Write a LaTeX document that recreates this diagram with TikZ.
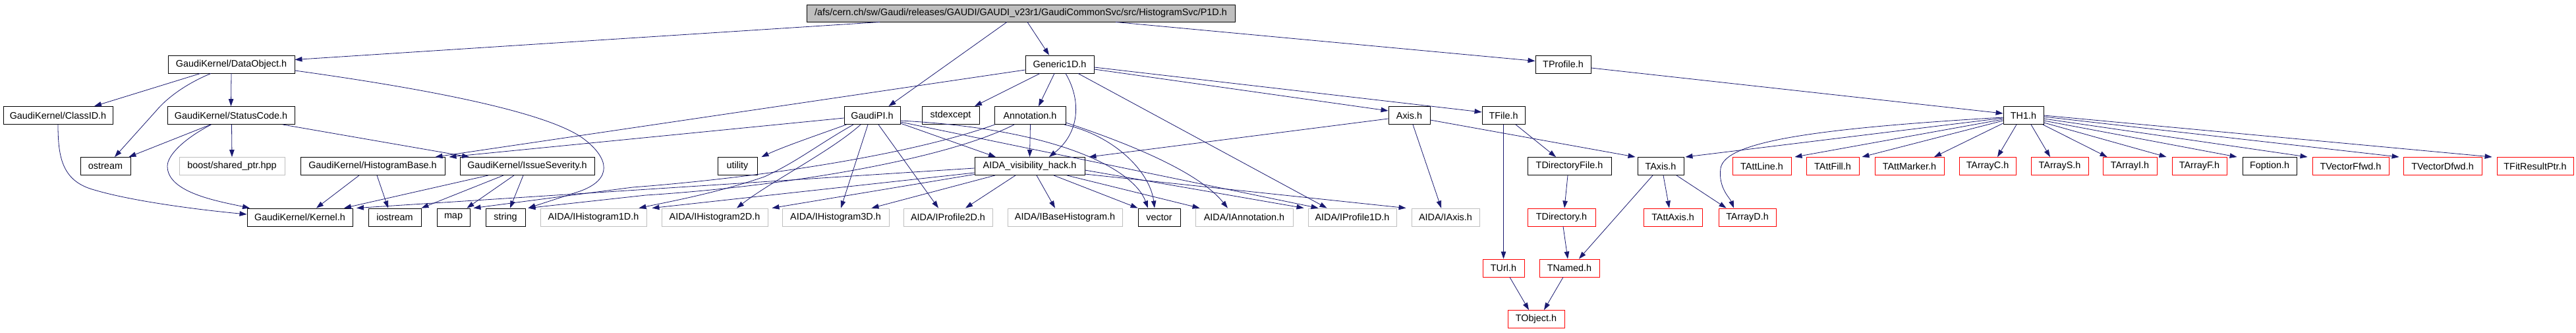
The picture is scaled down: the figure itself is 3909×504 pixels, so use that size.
\documentclass[tikz,border=0pt]{standalone}
\usepackage{fontspec}
\setmainfont{Liberation Sans}
\usetikzlibrary{arrows.meta}
\definecolor{edgec}{RGB}{25,25,112}
\definecolor{boxgray}{RGB}{191,191,191}
\newcommand{\fsz}{\fontsize{14.4pt}{17pt}\selectfont}
\tikzset{
  nb/.style={draw=black, line width=0.9pt, minimum height=27pt, inner sep=0pt, font=\fsz, fill=white},
  gb/.style={nb, draw=boxgray},
  rb/.style={nb, draw=red},
  dep/.style={draw=edgec, line width=0.8pt, -{Triangle[length=11pt,width=7.5pt]}},
}
\begin{document}
\begin{tikzpicture}[x=1pt,y=-1pt]
\useasboundingbox (0,0) rectangle (3909,504);
% row 0
\node[nb, fill=boxgray, minimum width=650pt, minimum height=26pt] (root) at (1549,20) {/afs/cern.ch/sw/Gaudi/releases/GAUDI/GAUDI\_v23r1/GaudiCommonSvc/src/HistogramSvc/P1D.h};
% row 1
\node[nb, minimum width=192pt] (dobj) at (351,97.5) {GaudiKernel/DataObject.h};
\node[nb, minimum width=104pt] (gen) at (1608,97.5) {Generic1D.h};
\node[nb, minimum width=84pt] (tprof) at (2372,97.5) {TProfile.h};
% row 2
\node[nb, minimum width=166pt] (classid) at (88,175) {GaudiKernel/ClassID.h};
\node[nb, minimum width=193pt] (status) at (350.5,175) {GaudiKernel/StatusCode.h};
\node[nb, minimum width=85pt] (gaudipi) at (1323.5,175) {GaudiPI.h};
\node[nb, minimum width=87pt] (stdexc) at (1442.5,175) {stdexcept};
\node[nb, minimum width=108pt] (annot) at (1563,175) {Annotation.h};
\node[nb, minimum width=63pt] (axis) at (2138.5,175) {Axis.h};
\node[nb, minimum width=65pt] (tfile) at (2281.5,175) {TFile.h};
\node[nb, minimum width=61pt] (th1) at (3070.5,175) {TH1.h};
% row 3
\node[nb, minimum width=76pt] (ostream) at (160,252) {ostream};
\node[gb, minimum width=160pt] (boost) at (352,252) {boost/shared\_ptr.hpp};
\node[nb, minimum width=219pt] (hbase) at (565.5,252) {GaudiKernel/HistogramBase.h};
\node[nb, minimum width=204pt] (issue) at (800,252) {GaudiKernel/IssueSeverity.h};
\node[nb, minimum width=60pt] (utility) at (1119,252) {utility};
\node[nb, minimum width=167pt] (aida) at (1562.5,252) {AIDA\_visibility\_hack.h};
\node[nb, minimum width=127pt] (tdirf) at (2381.5,252) {TDirectoryFile.h};
\node[nb, minimum width=70pt] (taxis) at (2520,252) {TAxis.h};
\node[rb, minimum width=89pt] (tattline) at (2673.5,252) {TAttLine.h};
\node[rb, minimum width=80pt] (tattfill) at (2781,252) {TAttFill.h};
\node[rb, minimum width=105pt] (tattmark) at (2897.5,252) {TAttMarker.h};
\node[rb, minimum width=86pt] (tarrc) at (3016,252) {TArrayC.h};
\node[rb, minimum width=87pt] (tarrs) at (3125.5,252) {TArrayS.h};
\node[rb, minimum width=82pt] (tarri) at (3232,252) {TArrayI.h};
\node[rb, minimum width=83pt] (tarrf) at (3337.5,252) {TArrayF.h};
\node[nb, minimum width=82pt] (foption) at (3444,252) {Foption.h};
\node[rb, minimum width=116pt] (tvecf) at (3567,252) {TVectorFfwd.h};
\node[rb, minimum width=119pt] (tvecd) at (3706.5,252) {TVectorDfwd.h};
\node[rb, minimum width=116pt] (tfit) at (3847,252) {TFitResultPtr.h};
% row 4
\node[nb, minimum width=160pt] (kernel) at (455,329.5) {GaudiKernel/Kernel.h};
\node[nb, minimum width=80pt] (iostream) at (599,329.5) {iostream};
\node[nb, minimum width=50pt] (map) at (688,329.5) {map};
\node[nb, minimum width=60pt] (string) at (767,329.5) {string};
\node[gb, minimum width=161pt] (ih1) at (900.5,329.5) {AIDA/IHistogram1D.h};
\node[gb, minimum width=161pt] (ih2) at (1084.5,329.5) {AIDA/IHistogram2D.h};
\node[gb, minimum width=162pt] (ih3) at (1268,329.5) {AIDA/IHistogram3D.h};
\node[gb, minimum width=135pt] (ip2) at (1438.5,329.5) {AIDA/IProfile2D.h};
\node[gb, minimum width=174pt] (ibase) at (1616,329.5) {AIDA/IBaseHistogram.h};
\node[nb, minimum width=64pt] (vector) at (1759,329.5) {vector};
\node[gb, minimum width=148pt] (iann) at (1888,329.5) {AIDA/IAnnotation.h};
\node[gb, minimum width=134pt] (ip1) at (2052,329.5) {AIDA/IProfile1D.h};
\node[gb, minimum width=103pt] (iaxis) at (2193.5,329.5) {AIDA/IAxis.h};
\node[rb, minimum width=103pt] (tdir) at (2369.5,329.5) {TDirectory.h};
\node[rb, minimum width=89pt] (tattaxis) at (2538.5,329.5) {TAttAxis.h};
\node[rb, minimum width=87pt] (tarrd) at (2651.5,329.5) {TArrayD.h};
% row 5
\node[rb, minimum width=63pt] (turl) at (2281.5,406.5) {TUrl.h};
\node[rb, minimum width=91pt] (tnamed) at (2381.5,406.5) {TNamed.h};
% row 6
\node[rb, minimum width=86pt] (tobject) at (2331,484) {TObject.h};

% ---- edges ----
% root
\draw[dep] ([xshift=-214pt]root.south) -- ([yshift=7pt]dobj.east);
\draw[dep] ([xshift=-21pt]root.south) -- ([xshift=25pt]gaudipi.north);
\draw[dep] ([xshift=10pt]root.south) -- ([xshift=-16pt]gen.north);
\draw[dep] ([xshift=144pt]root.south) -- ([yshift=5pt]tprof.west);
% DataObject
\draw[dep] ([xshift=-47pt]dobj.south) -- ([xshift=55pt]classid.north);
\draw[dep] ([xshift=-31pt]dobj.south) .. controls (280,128) and (252,150) .. (237,168) -- ([xshift=14pt]ostream.north);
\draw[dep] (dobj.south) -- (status.north);
\draw[dep] ([yshift=-9.5pt]dobj.east) .. controls (650,135) and (830,170) .. (885,210) .. controls (925,240) and (930,272) .. (880,290) -- ([xshift=4pt]string.north east);
% ClassID
\draw[dep] (classid.south) .. controls (88,240) and (95,275) .. (143,288) .. controls (200,305) and (300,318) .. ([yshift=4.5pt]kernel.west);
% StatusCode
\draw[dep] ([xshift=-31pt]status.south) -- ([xshift=-3pt]ostream.north east);
\draw[dep] ([xshift=1pt]status.south) -- (boost.north);
\draw[dep] ([xshift=-30pt]status.south) .. controls (280,210) and (254,235) .. (254,252) .. controls (254,292) and (330,305) .. ([xshift=-76pt]kernel.north);
\draw[dep] ([xshift=78.5pt]status.south) -- ([xshift=-88pt]issue.north);
% HistogramBase
\draw[dep] ([xshift=-20.5pt]hbase.south) -- ([xshift=25pt]kernel.north);
\draw[dep] ([xshift=6.5pt]hbase.south) -- ([xshift=-10pt]iostream.north);
% IssueSeverity
\draw[dep] ([xshift=-59pt]issue.south) -- ([xshift=67pt]kernel.north);
\draw[dep] ([xshift=-36pt]issue.south) -- (iostream.north east);
\draw[dep] ([xshift=-20pt]issue.south) -- ([xshift=-5pt]map.north east);
\draw[dep] ([xshift=-6pt]issue.south) -- ([xshift=7pt]string.north);
% GaudiPI
\draw[dep] ([yshift=-4pt]gaudipi.west) -- ([xshift=6pt]hbase.north east);
\draw[dep] ([xshift=-39pt]gaudipi.south) .. controls (1240,205) and (1190,222) .. ([xshift=6pt]utility.north east);
\draw[dep] ([xshift=-28.5pt]gaudipi.south) .. controls (1240,220) and (1210,245) .. (1160,268) .. controls (1090,292) and (1020,305) .. ([xshift=-12pt]ih1.north east);
\draw[dep] ([xshift=-17.5pt]gaudipi.south) .. controls (1260,230) and (1170,275) .. ([xshift=33.5pt]ih2.north);
\draw[dep] ([xshift=-6.5pt]gaudipi.south) -- ([xshift=8pt]ih3.north);
\draw[dep] ([xshift=9.5pt]gaudipi.south) -- ([xshift=-14.5pt]ip2.north);
\draw[dep] ([yshift=-12pt]gaudipi.east) -- ([xshift=-51.5pt]aida.north);
\draw[dep] ([yshift=-8pt]gaudipi.east) .. controls (1600,195) and (1720,255) .. ([xshift=-17pt]vector.north);
\draw[dep] ([yshift=-10pt]gaudipi.east) -- ([xshift=16pt]ip1.north west);
% Generic1D
\draw[dep] ([yshift=-8.5pt]gen.west) -- ([xshift=-15pt]hbase.north east);
\draw[dep] ([xshift=-30pt]gen.south) -- ([xshift=36.5pt]stdexc.north);
\draw[dep] ([xshift=-8pt]gen.south) -- ([xshift=13pt]annot.north);
\draw[dep] ([xshift=9pt]gen.south) .. controls (1640,150) and (1640,200) .. ([xshift=29.5pt]aida.north);
\draw[dep] ([xshift=28pt]gen.south) -- ([xshift=29pt]ip1.north west);
\draw[dep] ([yshift=-7.5pt]gen.east) -- ([yshift=7pt]axis.west);
\draw[dep] ([yshift=-4.5pt]gen.east) -- ([yshift=5pt]tfile.west);
% Annotation
\draw[dep] ([xshift=0.5pt]annot.south) -- (aida.north);
\draw[dep] ([xshift=52pt]annot.south) .. controls (1690,205) and (1745,260) .. ([xshift=-7pt]vector.north);
\draw[dep] ([yshift=-11pt]annot.east) .. controls (1720,220) and (1820,262) .. ([xshift=-25pt]iann.north);
\draw[dep] ([xshift=1pt]annot.south west) .. controls (1390,232) and (1170,268) .. (960,284) -- ([xshift=5pt]map.north east);
\draw[dep] ([xshift=-24pt]annot.south) .. controls (1440,240) and (1200,282) .. (980,296) -- ([xshift=4pt]string.north east);
% AIDA_visibility_hack
\draw[dep] ([yshift=-3pt]aida.west) -- ([xshift=86pt]kernel.north);
\draw[dep] ([yshift=-10pt]aida.west) -- ([xshift=8pt]ih1.north east);
\draw[dep] ([yshift=-12.5pt]aida.west) -- ([xshift=6pt]ih2.north east);
\draw[dep] ([xshift=-52.5pt]aida.south) -- ([xshift=-27pt]ih3.north east);
\draw[dep] ([xshift=-21.5pt]aida.south) -- ([xshift=26.5pt]ip2.north);
\draw[dep] ([xshift=10.5pt]aida.south) -- ([xshift=-15pt]ibase.north);
\draw[dep] ([xshift=36.5pt]aida.south) -- (vector.north west);
\draw[dep] ([xshift=56.5pt]aida.south) -- ([xshift=7pt]iann.north west);
\draw[dep] ([yshift=-6pt]aida.east) -- ([xshift=-6pt]ip1.north west);
\draw[dep] ([yshift=-12pt]aida.east) -- ([xshift=-8pt]iaxis.north west);
% Axis
\draw[dep] ([yshift=-5pt]axis.west) -- ([xshift=6pt]aida.north east);
\draw[dep] ([xshift=5.5pt]axis.south) -- ([xshift=-6.5pt]iaxis.north);
\draw[dep] ([yshift=-7pt]axis.east) -- ([xshift=-3pt]taxis.north west);
% TFile
\draw[dep] (tfile.south) -- (turl.north);
\draw[dep] ([xshift=18.5pt]tfile.south) -- ([xshift=-20.5pt]tdirf.north);
\draw[dep] ([xshift=-2.5pt]tdirf.south) -- ([xshift=4.5pt]tdir.north);
\draw[dep] ([xshift=2.5pt]tdir.south) -- ([xshift=-2.5pt]tnamed.north);
% TAxis
\draw[dep] ([xshift=-12pt]taxis.south) -- ([xshift=14.5pt]tnamed.north);
\draw[dep] ([xshift=4pt]taxis.south) -- ([xshift=-5.5pt]tattaxis.north);
\draw[dep] ([xshift=24pt]taxis.south) -- ([xshift=12pt]tarrd.north west);
% TObject
\draw[dep] ([xshift=9.5pt]turl.south) -- ([xshift=-11pt]tobject.north);
\draw[dep] ([xshift=-9.5pt]tnamed.south) -- ([xshift=12pt]tobject.north);
% TProfile / TH1
\draw[dep] ([yshift=-5.5pt]tprof.east) -- ([yshift=3pt]th1.west);
\draw[dep] ([yshift=-4pt]th1.west) -- ([xshift=2pt]taxis.north east);
\draw[dep] ([yshift=-3pt]th1.west) .. controls (2750,195) and (2618,215) .. (2611,255) .. controls (2607,285) and (2625,300) .. ([xshift=-20.5pt]tarrd.north);
\draw[dep] ([yshift=-6pt]th1.west) -- ([xshift=5pt]tattline.north east);
\draw[dep] ([yshift=-8pt]th1.west) -- ([xshift=4pt]tattfill.north east);
\draw[dep] ([yshift=-12pt]th1.west) -- ([xshift=37.5pt]tattmark.north);
\draw[dep] ([xshift=-10.5pt]th1.south) -- ([xshift=15pt]tarrc.north);
\draw[dep] ([xshift=11.5pt]th1.south) -- ([xshift=-14.5pt]tarrs.north);
\draw[dep] ([xshift=29.5pt]th1.south) -- ([xshift=7pt]tarri.north west);
\draw[dep] ([yshift=-11pt]th1.east) -- ([xshift=-8pt]tarrf.north west);
\draw[dep] ([yshift=-8pt]th1.east) -- ([xshift=-8pt]foption.north west);
\draw[dep] ([yshift=-5pt]th1.east) -- ([xshift=-7pt]tvecf.north west);
\draw[dep] ([yshift=-2pt]th1.east) -- ([xshift=-6pt]tvecd.north west);
\draw[dep] ([yshift=0pt]th1.east) -- ([xshift=-7pt]tfit.north west);
\end{tikzpicture}
\end{document}
